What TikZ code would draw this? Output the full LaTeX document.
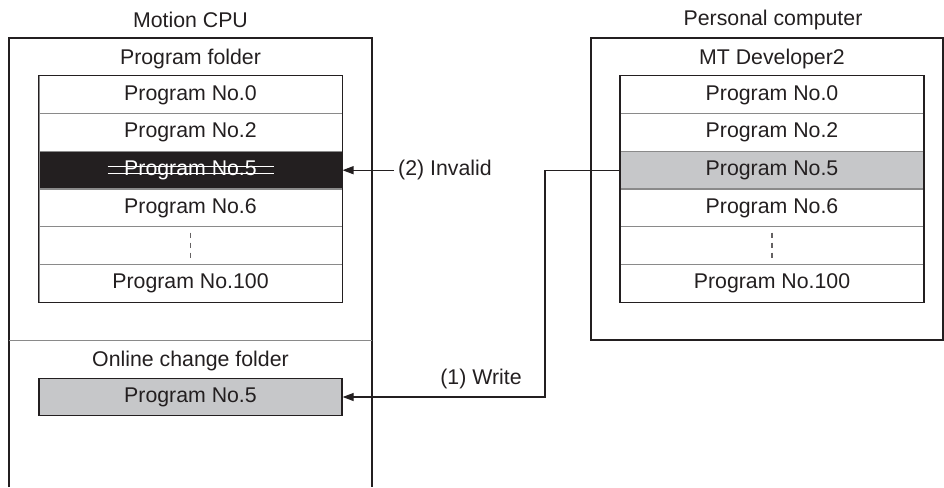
\documentclass[tikz,border=0pt]{standalone}
\usepackage{fontspec}
\setmainfont{Liberation Sans}
\usetikzlibrary{arrows.meta,calc}
\definecolor{ink}{HTML}{231F20}
\definecolor{sep}{HTML}{8A8A8A}
\definecolor{hilite}{HTML}{C6C7C9}
\begin{document}
\begin{tikzpicture}[x=1pt,y=-1pt,
  every node/.style={font=\fontsize{21.3}{25}\selectfont, text=ink},
  row/.style={minimum width=303pt, minimum height=37.67pt, inner sep=0pt, draw=sep, line width=1pt},
  frame/.style={draw=ink, line width=1.3pt},
  lbl/.style={inner sep=0pt},
  dots/.style={draw=ink!70, line width=1.1pt, dash pattern=on 5pt off 5pt},
  arr/.style={draw=ink, line width=1.2pt, -{Triangle[length=11pt,width=8pt]}}]
\useasboundingbox (0,0) rectangle (944,487);
% outer boxes
\draw[frame] (9,487) -- (9,38) -- (372,38) -- (372,487);
\draw[draw=sep, line width=1pt] (9,340) -- (372,340);
\draw[frame] (591,38) rectangle (943,340);
% titles
\node[lbl] (tcpu) at (190.5,20) {Motion CPU};
\node[lbl] (tpc) at (773,20) {Personal computer};
\node[lbl] (tpf) at (190.5,59) {Program folder};
\node[lbl] (tmt) at (772,59) {MT Developer2};
\node[lbl] (tocf) at (190.5,361) {Online change folder};
% left list
\node[row] (l0) at (190.5,94.8) {Program No.0};
\node[row] (l2) at (190.5,132.5) {Program No.2};
\node[row, fill=ink, text=white] (l5) at (190.5,170.2) {Program No.5};
\node[row] (l6) at (190.5,207.8) {Program No.6};
\node[row] (ld) at (190.5,245.5) {};
\node[row] (l100) at (190.5,283.2) {Program No.100};
\draw[frame] (l0.north west) rectangle (l100.south east);
\draw[white, line width=1.3pt] ($(l5.center)+(-83,-3.5)$) -- ($(l5.center)+(83,-3.5)$);
\draw[white, line width=1.3pt] ($(l5.center)+(-83,3.5)$) -- ($(l5.center)+(83,3.5)$);
\draw[dots] ($(ld.center)+(0,-13)$) -- ($(ld.center)+(0,15)$);
% right list
\node[row] (r0) at (772,94.8) {Program No.0};
\node[row] (r2) at (772,132.5) {Program No.2};
\node[row, fill=hilite] (r5) at (772,170.2) {Program No.5};
\node[row] (r6) at (772,207.8) {Program No.6};
\node[row] (rd) at (772,245.5) {};
\node[row] (r100) at (772,283.2) {Program No.100};
\draw[frame] (r0.north west) rectangle (r100.south east);
\draw[dots] ($(rd.center)+(0,-13)$) -- ($(rd.center)+(0,15)$);
% online change folder
\node[row, fill=hilite, draw=ink, line width=1.3pt] (oc) at (190.5,397) {Program No.5};
% connectors
\node[lbl, anchor=west] (inv) at (398,170.2) {(2) Invalid};
\draw[arr] (inv.west) ++(-4,0) -- (l5.east);
\coordinate (wc) at (545,170.2);
\node[lbl] (wr) at (481,379) {(1) Write};
\draw[arr] (r5.west) -| (wc) |- (oc.east);
\end{tikzpicture}
\end{document}
